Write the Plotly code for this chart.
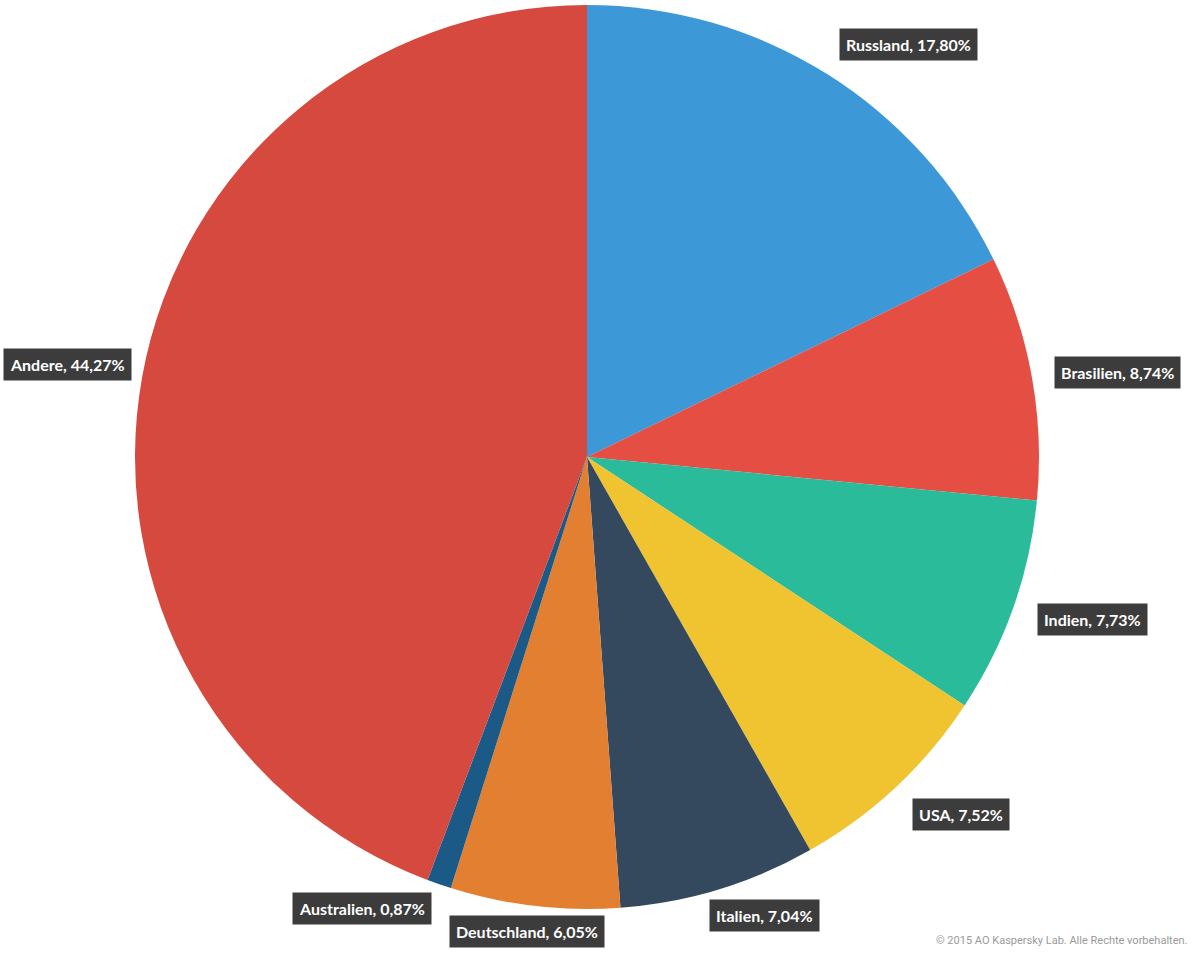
import math
import plotly.graph_objects as go

labels = ["Russland", "Brasilien", "Indien", "USA", "Italien", "Deutschland", "Australien", "Andere"]
values = [17.80, 8.74, 7.73, 7.52, 7.04, 6.05, 0.87, 44.27]
colors = ["#3d98d8", "#e54e43", "#2abb9b", "#f0c330", "#34495e", "#e37f31", "#1b5a86", "#d6493e"]
label_texts = ["Russland, 17,80%", "Brasilien, 8,74%", "Indien, 7,73%", "USA, 7,52%",
               "Italien, 7,04%", "Deutschland, 6,05%", "Australien, 0,87%", "Andere, 44,27%"]

W, H = 1200, 954
cx, cy, R = 587, 457, 452  # pie centre/radius in pixels (layout)

# small label nudges (pixels) mimicking the original label collision layout
nudge = {"Russland": (0, -10), "USA": (0, 11), "Italien": (-16, 4),
         "Deutschland": (-5, 3), "Andere": (12, -7), "Indien": (2, 4), "Australien": (0, 3)}

fig = go.Figure(go.Pie(
    labels=labels, values=values, sort=False, direction="clockwise", rotation=0,
    marker=dict(colors=colors, line=dict(width=0)),
    textinfo="none", hoverinfo="label+percent", showlegend=False,
    domain=dict(x=[(cx - R) / W, (cx + R) / W], y=[(H - cy - R) / H, (H - cy + R) / H]),
))

total = sum(values)
cum = 0.0
annotations = []
label_r = R + 23
for name, v, t in zip(labels, values, label_texts):
    mid = (cum + v / 2) / total * 2 * math.pi
    cum += v
    s, c = math.sin(mid), math.cos(mid)
    dx, dy = nudge.get(name, (0, 0))
    px = cx + label_r * s + dx
    py = cy - label_r * c + dy
    if abs(s) < 0.2:
        xa = "center"
    elif s > 0:
        xa = "left"
    else:
        xa = "right"
    annotations.append(dict(
        x=px / W, y=1 - py / H, xref="paper", yref="paper", text="<b>" + t + "</b>",
        showarrow=False, xanchor=xa, yanchor="middle", bgcolor="#3c3c3c", borderpad=6,
        font=dict(family="Lato, Roboto, sans-serif", size=16, color="white"),
    ))

annotations.append(dict(
    x=1190 / W, y=1 - 940 / H, xref="paper", yref="paper",
    text="© 2015 AO Kaspersky Lab. Alle Rechte vorbehalten.", showarrow=False,
    xanchor="right", yanchor="middle",
    font=dict(family="Roboto, Liberation Sans, sans-serif", size=11, color="#9a9a9a"),
))

fig.update_layout(
    width=W, height=H, margin=dict(l=0, r=0, t=0, b=0),
    paper_bgcolor="white", plot_bgcolor="white", annotations=annotations,
)
fig.write_html("out.html", config={"displayModeBar": False},
               post_script="document.body.style.margin='0px';")
